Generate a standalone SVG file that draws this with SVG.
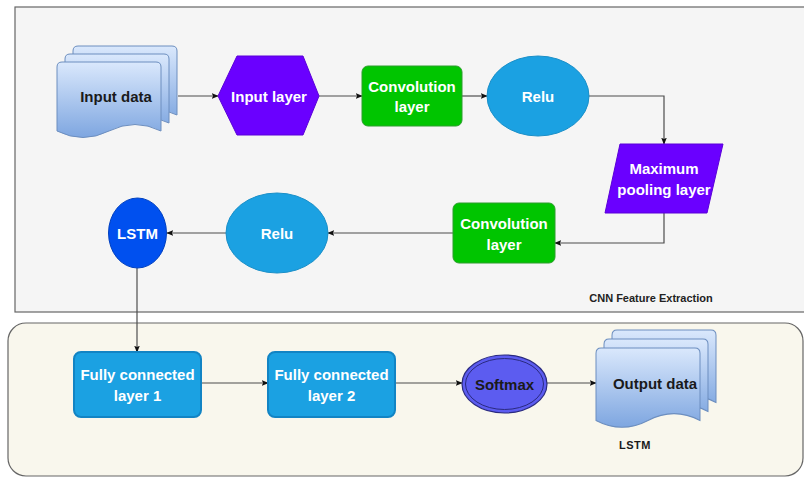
<svg xmlns="http://www.w3.org/2000/svg" width="804" height="478" viewBox="0 0 804 478">
<defs>
<style>
.t{font-family:"Liberation Sans",Arial,sans-serif;font-weight:bold;font-size:15px;text-anchor:middle;dominant-baseline:central}
.w{fill:#ffffff}
.k{fill:#1a1a1a}
.doc{fill:url(#dg);stroke:#6c8ebf;stroke-width:1}
.ln{fill:none;stroke:#4d4d4d;stroke-width:1.2}
</style>
<linearGradient id="dg" x1="0" y1="0" x2="0" y2="1">
<stop offset="0" stop-color="#dae8fc"/>
<stop offset="1" stop-color="#7ea6e0"/>
</linearGradient>
<marker id="ar" viewBox="0 0 10 10" refX="9" refY="5" markerWidth="7" markerHeight="7" orient="auto" markerUnits="userSpaceOnUse">
<path d="M0,1 L10,5 L0,9 L2,5 Z" fill="#111"/>
</marker>
<path id="pg" d="M0,5 Q0,0 5,0 L99,0 Q104,0 104,5 L104,69 Q78,56 52,69 Q26,82 0,69 Z"/>
</defs>
<rect x="0" y="0" width="804" height="478" fill="#ffffff"/>
<g id="cnn-container">
<rect x="15" y="7" width="800" height="305" fill="#f5f5f5" stroke="#666666" stroke-width="1.2"/>
<text class="t" x="651" y="298" style="font-size:11px;fill:#222">CNN Feature Extraction</text>
</g>
<g id="lstm-container">
<rect x="8" y="323" width="795" height="153" rx="18" fill="#f9f7ed" stroke="#666666" stroke-width="1.2"/>
</g>
<g id="connectors">
<line class="ln" x1="178" y1="96" x2="218" y2="96" marker-end="url(#ar)"/>
<line class="ln" x1="319" y1="96" x2="362" y2="96" marker-end="url(#ar)"/>
<line class="ln" x1="462" y1="96" x2="487" y2="96" marker-end="url(#ar)"/>
<polyline class="ln" points="589,96 664,96 664,144" marker-end="url(#ar)"/>
<polyline class="ln" points="664,213 664,243 555,243" marker-end="url(#ar)"/>
<line class="ln" x1="453" y1="233" x2="328" y2="233" marker-end="url(#ar)"/>
<line class="ln" x1="226" y1="233" x2="167" y2="233" marker-end="url(#ar)"/>
<line class="ln" x1="137" y1="268" x2="137" y2="352" marker-end="url(#ar)"/>
<line class="ln" x1="201" y1="383" x2="268" y2="383" marker-end="url(#ar)"/>
<line class="ln" x1="395" y1="383" x2="462" y2="383" marker-end="url(#ar)"/>
<line class="ln" x1="547" y1="383" x2="596" y2="383" marker-end="url(#ar)"/>
</g>
<g id="input-data">
<use href="#pg" class="doc" transform="translate(73,46)"/>
<use href="#pg" class="doc" transform="translate(65,54)"/>
<use href="#pg" class="doc" transform="translate(57,62)"/>
<text class="t k" x="116" y="96">Input data</text>
</g>
<g id="input-layer">
<polygon points="218,96 237,56 303,56 319,96 303,135 237,135" fill="#6a00ff" stroke="#5a00d8" stroke-width="1"/>
<text class="t w" x="269" y="96">Input layer</text>
</g>
<g id="conv1">
<rect x="362" y="66" width="100" height="60" rx="6" fill="#00c500" stroke="#2d9e2d" stroke-width="1"/>
<text class="t w" x="412" y="86">Convolution</text>
<text class="t w" x="412" y="106">layer</text>
</g>
<g id="relu1">
<ellipse cx="538" cy="96" rx="51" ry="40" fill="#1ba1e2" stroke="#1a8fc8" stroke-width="1"/>
<text class="t w" x="538" y="96">Relu</text>
</g>
<g id="maxpool">
<polygon points="620,144 723,144 707,213 605,213" fill="#6a00ff" stroke="#5a00d8" stroke-width="1"/>
<text class="t w" x="664" y="168">Maximum</text>
<text class="t w" x="664" y="189">pooling layer</text>
</g>
<g id="conv2">
<rect x="453" y="203" width="102" height="60" rx="6" fill="#00c500" stroke="#2d9e2d" stroke-width="1"/>
<text class="t w" x="504" y="223">Convolution</text>
<text class="t w" x="504" y="244">layer</text>
</g>
<g id="relu2">
<ellipse cx="277" cy="233" rx="51" ry="40" fill="#1ba1e2" stroke="#1a8fc8" stroke-width="1"/>
<text class="t w" x="277" y="233">Relu</text>
</g>
<g id="lstm">
<ellipse cx="137.5" cy="233" rx="29" ry="35" fill="#0050ef" stroke="#0040c0" stroke-width="1"/>
<text class="t w" x="137.5" y="233">LSTM</text>
</g>
<g id="fc1">
<rect x="74" y="352" width="127" height="65" rx="7" fill="#1ba1e2" stroke="#1284c4" stroke-width="2"/>
<text class="t w" x="137.5" y="374">Fully connected</text>
<text class="t w" x="137.5" y="395">layer 1</text>
</g>
<g id="fc2">
<rect x="268" y="352" width="127" height="65" rx="7" fill="#1ba1e2" stroke="#1284c4" stroke-width="2"/>
<text class="t w" x="331.5" y="374">Fully connected</text>
<text class="t w" x="331.5" y="395">layer 2</text>
</g>
<g id="softmax">
<ellipse cx="504.5" cy="384" rx="42.5" ry="29" fill="#5c5cf0" stroke="#2a2a80" stroke-width="1.2"/>
<ellipse cx="504.5" cy="384" rx="39" ry="25.5" fill="none" stroke="#2a2a80" stroke-width="1"/>
<text class="t k" x="504.5" y="384">Softmax</text>
</g>
<g id="output-data">
<use href="#pg" class="doc" transform="translate(612,330) scale(1,1.05)"/>
<use href="#pg" class="doc" transform="translate(604,339) scale(1,1.05)"/>
<use href="#pg" class="doc" transform="translate(596,348) scale(1,1.05)"/>
<text class="t k" x="655" y="383">Output data</text>
<text class="t k" x="635" y="445" style="font-size:11px;letter-spacing:0.5px">LSTM</text>
</g>
</svg>
